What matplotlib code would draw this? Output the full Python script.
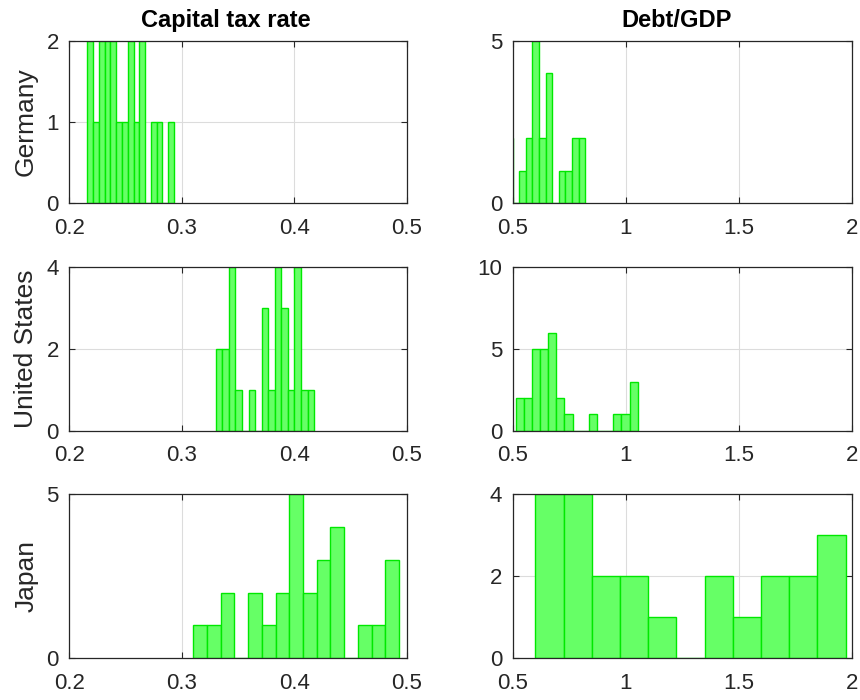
import numpy as np
import matplotlib
matplotlib.use("Agg")
import matplotlib.pyplot as plt

plt.rcParams['font.family'] = ['Liberation Sans', 'DejaVu Sans']

countries = ["Germany", "United States", "Japan"]
columns = ["Capital tax rate", "Debt/GDP"]

# Histogram bins: (first edge, bin width, counts)
ger_tax_start, ger_tax_width = 0.2160, 0.00514
ger_tax_counts = [2, 1, 2, 2, 2, 1, 1, 2, 1, 2, 0, 1, 1, 0, 1]
ger_debt_start, ger_debt_width = 0.4704, 0.0292
ger_debt_counts = [2, 0, 1, 2, 5, 2, 4, 0, 1, 1, 2, 2]

us_tax_start, us_tax_width = 0.3302, 0.00583
us_tax_counts = [2, 2, 4, 1, 0, 1, 0, 3, 1, 4, 3, 1, 4, 1, 1]
us_debt_start, us_debt_width = 0.5133, 0.03595
us_debt_counts = [2, 2, 5, 5, 6, 2, 1, 0, 0, 1, 0, 0, 1, 1, 3]

jp_tax_start, jp_tax_width = 0.3103, 0.01219
jp_tax_counts = [1, 1, 2, 0, 2, 1, 2, 5, 2, 3, 4, 0, 1, 1, 3]
jp_debt_start, jp_debt_width = 0.600, 0.1247
jp_debt_counts = [4, 4, 2, 2, 1, 0, 2, 1, 2, 2, 3]

tax_xticks = [0.2, 0.3, 0.4, 0.5]
tax_xticklabels = ["0.2", "0.3", "0.4", "0.5"]
debt_xticks = [0.5, 1.0, 1.5, 2.0]
debt_xticklabels = ["0.5", "1", "1.5", "2"]

yticks = {
    (0, 0): [0, 1, 2], (0, 1): [0, 5],
    (1, 0): [0, 2, 4], (1, 1): [0, 5, 10],
    (2, 0): [0, 5], (2, 1): [0, 2, 4],
}

panels = {
    (0, 0): (ger_tax_start, ger_tax_width, ger_tax_counts),
    (0, 1): (ger_debt_start, ger_debt_width, ger_debt_counts),
    (1, 0): (us_tax_start, us_tax_width, us_tax_counts),
    (1, 1): (us_debt_start, us_debt_width, us_debt_counts),
    (2, 0): (jp_tax_start, jp_tax_width, jp_tax_counts),
    (2, 1): (jp_debt_start, jp_debt_width, jp_debt_counts),
}

fig = plt.figure(figsize=(8.6, 7.0), dpi=100)

W, H = 860.0, 700.0
col_px = [(69.3, 337.4), (512.7, 339.3)]
row_px = [(40.7, 162.6), (267.3, 163.4), (494.0, 164.3)]
title_x = [0.464, 0.484]

face = '#66ff66'
edge = '#00e800'
spine_c = '#262626'

for (r, c), (start, width, counts) in panels.items():
    lx, wx = col_px[c]
    ty, hy = row_px[r]
    ax = fig.add_axes([lx / W, 1 - (ty + hy) / H, wx / W, hy / H])
    counts = np.asarray(counts, dtype=float)
    lefts = start + width * np.arange(len(counts))
    ax.bar(lefts, counts, width=width, align='edge', color=face,
           edgecolor=edge, linewidth=1.0, zorder=2)
    if c == 0:
        ax.set_xlim(0.2, 0.5)
        ax.set_xticks(tax_xticks)
        ax.set_xticklabels(tax_xticklabels)
    else:
        ax.set_xlim(0.5, 2.0)
        ax.set_xticks(debt_xticks)
        ax.set_xticklabels(debt_xticklabels)
    yt = yticks[(r, c)]
    ax.set_ylim(yt[0], yt[-1])
    ax.set_yticks(yt)
    ax.grid(True, color='#dcdcdc', linewidth=0.8, zorder=0)
    ax.set_axisbelow(True)
    for s in ax.spines.values():
        s.set_color(spine_c)
        s.set_linewidth(0.9)
        s.set_zorder(3)
    ax.tick_params(direction='in', length=4, width=0.8, colors=spine_c,
                   labelcolor='#262626', labelsize=16, top=True, right=True)
    ax.tick_params(axis='x', pad=10.5)
    ax.tick_params(axis='y', pad=7.5)
    if c == 0:
        ax.set_ylabel(countries[r], fontsize=19, color='#262626', labelpad=6)
    if r == 0:
        ax.set_title(columns[c], fontsize=17, fontweight='bold', pad=10,
                     x=title_x[c])

fig.savefig("out.png", dpi=100)
